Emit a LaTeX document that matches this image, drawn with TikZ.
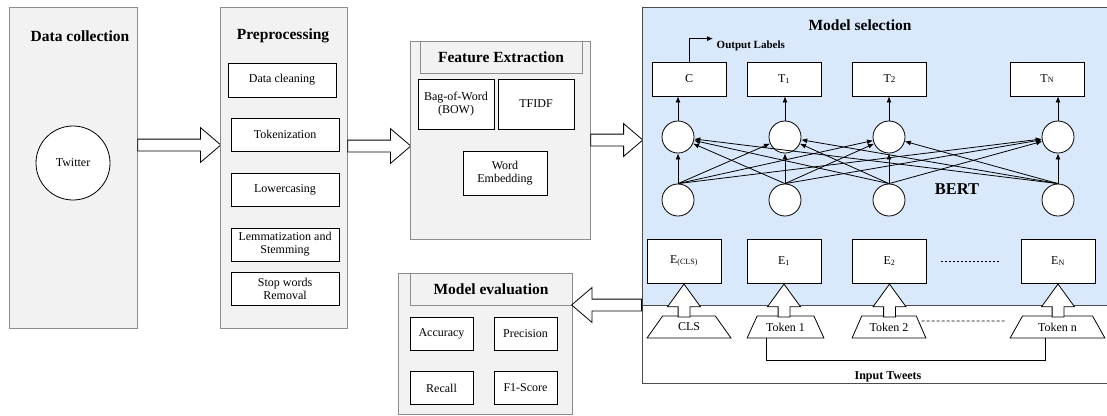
\documentclass[tikz,border=0pt]{standalone}
\usepackage{fontspec}
\setmainfont{Liberation Serif}
\usetikzlibrary{shapes.geometric,shapes.arrows,arrows.meta}
\definecolor{msblue}{HTML}{DAE8FC}

\begin{document}
\begin{tikzpicture}[x=1pt, y=-1pt, line width=0.8pt, >={Latex[length=6pt,width=5pt]},
  panel/.style={draw=black!45, fill=black!5},
  box/.style={draw, fill=white, align=center, inner sep=1pt, font=\fontsize{12}{13}\selectfont},
  pbox/.style={box, minimum width=108, minimum height=33},
  obox/.style={box, minimum width=74, minimum height=34},
  ebox/.style={box, minimum width=74, minimum height=44},
  mbox/.style={box, minimum width=63, minimum height=33},
  ttl/.style={font=\bfseries\fontsize{15.5}{17}\selectfont},
  lbl/.style={font=\bfseries\fontsize{12}{13}\selectfont},
  neuron/.style={circle, draw, fill=white, minimum size=32},
  harrow/.style={single arrow, draw, fill=white, inner sep=0pt, inner ysep=5.5pt, single arrow head extend=11.5pt, single arrow tip angle=81},
  varrow/.style={single arrow, draw, fill=white, inner sep=0pt, inner xsep=5.5pt, shape border rotate=90, single arrow head extend=10.5pt, single arrow tip angle=72, minimum height=33},
  tok/.style={trapezium, draw, fill=white, trapezium stretches=true, trapezium angle=51, minimum height=22, inner sep=0pt, font=\fontsize{12}{13}\selectfont}]
\useasboundingbox (0,0) rectangle (1107,415);

% data collection
\node[panel, minimum width=128, minimum height=321] (dc) at (73,167.5) {};
\node[ttl] (dctitle) at (80,36) {Data collection};
\node[box, circle, minimum size=74] (tw) at (73,163) {Twitter};
\node[harrow, anchor=tail, minimum height=83] (a1) at (dc.east |- 0,145) {};

% preprocessing
\node[panel, minimum width=127, minimum height=321] (pre) at (283.5,167.5) {};
\node[ttl] (pretitle) at (283,36) {Preprocessing};
\node[pbox, minimum height=34] (clean) at (282,80) {Data cleaning};
\node[pbox] (tokenize) at (285,134.5) {Tokenization};
\node[pbox] (lower) at (285,189.5) {Lowercasing};
\node[pbox] (lemma) at (285,244.5) {Lemmatization and\\Stemming};
\node[pbox] (stop) at (285,288.5) {Stop words\\Removal};
\node[harrow, anchor=tail, minimum height=63] (a2) at (pre.east |- 0,146) {};

% feature extraction
\node[panel, minimum width=180, minimum height=198] (fe) at (500,140) {};
\node[panel, ttl, minimum width=162, minimum height=32] (fetitle) at (501,57) {Feature Extraction};
\node[box, minimum width=76, minimum height=50] (bow) at (456,104) {Bag-of-Word\\(BOW)};
\node[box, minimum width=76, minimum height=50] (tfidf) at (536,104) {TFIDF};
\node[box, minimum width=84, minimum height=44] (emb) at (505,173) {Word\\Embedding};
\node[harrow, anchor=tail, minimum height=52, single arrow head extend=10.5pt] (a3) at (fe.east |- 0,140) {};

% model selection
\node[fill=msblue, minimum width=470, minimum height=298, anchor=north west] (bertbg) at (642,7) {};
\node[draw=black!70, minimum width=470, minimum height=376, anchor=north west] (ms) at (642,7) {};
\draw[black!70] (bertbg.south west) -- (bertbg.south east);
\node[ttl] (mstitle) at (860,25) {Model selection};

\node[obox] (o1) at (689,79) {C};
\node[obox] (o2) at (784,79) {T\textsubscript{1}};
\node[obox] (o3) at (889.5,79) {T{\small 2}};
\node[obox] (o4) at (1047,79) {T{\footnotesize N}};
\draw[->] (o1.north) |- ++(24,-23) node[lbl, anchor=west, yshift=-7pt, font=\bfseries\fontsize{11}{12}\selectfont] (outlbl) {Output Labels};

\foreach \n/\x in {1/678,2/785,3/889,4/1058} {
  \node[neuron] (u\n) at (\x,137) {};
  \node[neuron] (l\n) at (\x,200) {};
  \draw[->] (u\n) -- (u\n |- o\n.south);
}
\foreach \i in {1,...,4}
  \foreach \j in {1,...,4}
    \draw[->] (l\i.north) -- (u\j);
\node[font=\bfseries\fontsize{16.5}{18}\selectfont] (bert) at (957,189) {BERT};

\node[ebox] (e1) at (684,261) {E\textsubscript{(CLS)}};
\node[ebox] (e2) at (784,261) {E\textsubscript{1}};
\node[ebox] (e3) at (889.5,261) {E\textsubscript{2}};
\node[ebox] (e4) at (1058,261) {E\textsubscript{N}};
\draw[dash pattern=on 2pt off 2pt, shorten <=14pt, shorten >=21pt] (e3) -- (e4);

\node[tok, minimum width=84] (k1) at (689,327) {CLS};
\node[tok, minimum width=77] (k2) at (785.5,327) {Token 1};
\node[tok, minimum width=74] (k3) at (889,327) {Token 2};
\node[tok, minimum width=95] (k4) at (1057.5,327) {Token n};
\foreach \n in {1,...,4}
  \node[varrow, anchor=tip] (v\n) at (e\n.south) {};
\draw[dash pattern=on 3pt off 2pt] ([yshift=6pt]k3.east) -- ([yshift=6pt, xshift=-10pt]k4.west);
\draw ([xshift=-19pt]k2.south) -- ++(0,22) -| ([xshift=-12pt]k4.south);
\node[lbl] (input) at (888,377) {Input Tweets};

% model evaluation
\node[panel, minimum width=174, minimum height=141] (ev) at (485,343.5) {};
\node[panel, ttl, minimum width=162, minimum height=32] (evtitle) at (491,289) {Model evaluation};
\node[mbox] (acc) at (441.5,333.5) {Accuracy};
\node[mbox] (prec) at (525.5,333.5) {Precision};
\node[mbox] (rec) at (441.5,388) {Recall};
\node[mbox] (f1) at (525.5,388) {F1-Score};
\node[harrow, anchor=tail, shape border rotate=180, minimum height=70] (a4) at (ms.west |- 0,305) {};
\end{tikzpicture}
\end{document}
